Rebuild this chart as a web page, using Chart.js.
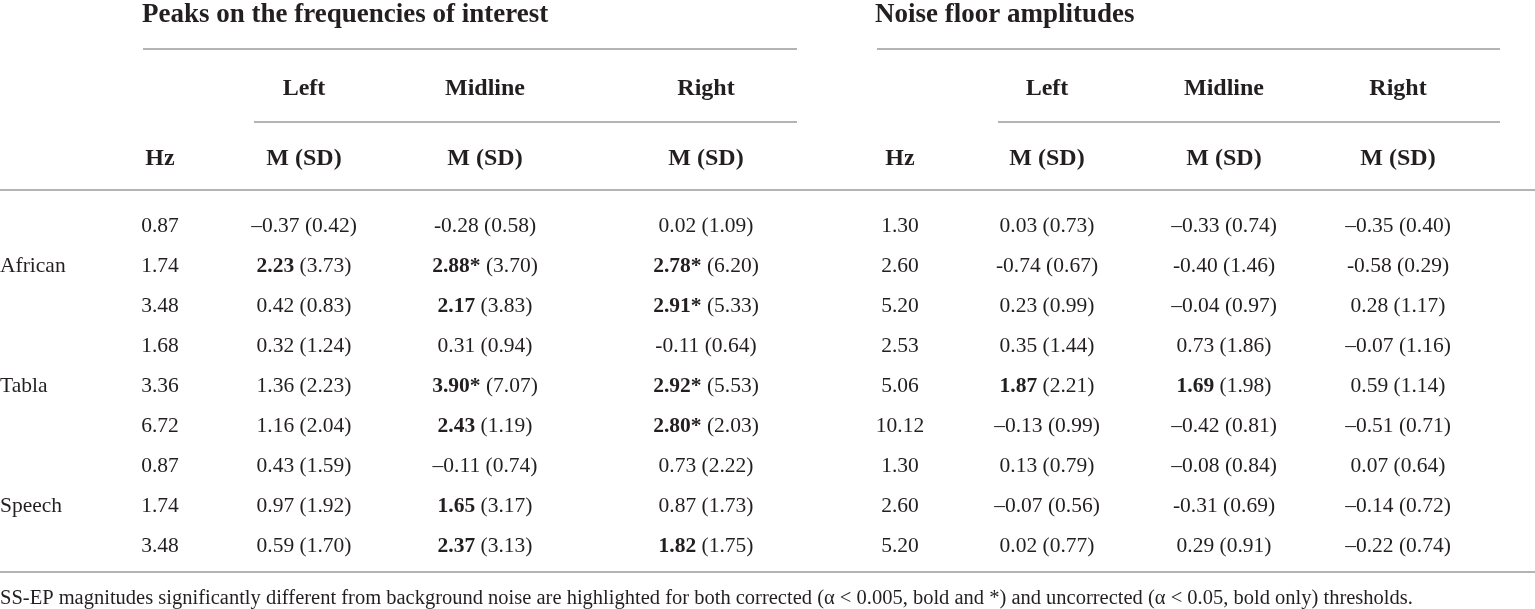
<!DOCTYPE html>
<html lang="en">
<head>
  <meta charset="UTF-8">
  <title>SS-EP magnitudes</title>
  <script src="https://cdn.jsdelivr.net/npm/chart.js"></script>
  <style>
    html, body { margin: 0; padding: 0; background: #fff; }
    .chart-box { position: relative; width: 1535px; height: 609px; }
  </style>
</head>
<body>

  <div class="chart-box"><canvas id="tableChart"></canvas></div>

  <script>
    // table content
    const groups = ['African', 'Tabla', 'Speech'];
    const peakHz = ['0.87', '1.74', '3.48', '1.68', '3.36', '6.72', '0.87', '1.74', '3.48'];
    const noiseHz = ['1.30', '2.60', '5.20', '2.53', '5.06', '10.12', '1.30', '2.60', '5.20'];

    // peaks on the frequencies of interest: mean, sd, significance (0 none, 1 bold, 2 bold + *)
    const peakLeftM = ['\u20130.37', '2.23', '0.42', '0.32', '1.36', '1.16', '0.43', '0.97', '0.59'];
    const peakLeftSD = ['0.42', '3.73', '0.83', '1.24', '2.23', '2.04', '1.59', '1.92', '1.70'];
    const peakLeftSig = [0, 1, 0, 0, 0, 0, 0, 0, 0];

    const peakMidM = ['-0.28', '2.88', '2.17', '0.31', '3.90', '2.43', '\u20130.11', '1.65', '2.37'];
    const peakMidSD = ['0.58', '3.70', '3.83', '0.94', '7.07', '1.19', '0.74', '3.17', '3.13'];
    const peakMidSig = [0, 2, 1, 0, 2, 1, 0, 1, 1];

    const peakRightM = ['0.02', '2.78', '2.91', '-0.11', '2.92', '2.80', '0.73', '0.87', '1.82'];
    const peakRightSD = ['1.09', '6.20', '5.33', '0.64', '5.53', '2.03', '2.22', '1.73', '1.75'];
    const peakRightSig = [0, 2, 2, 0, 2, 2, 0, 0, 1];

    // noise floor amplitudes
    const noiseLeftM = ['0.03', '-0.74', '0.23', '0.35', '1.87', '\u20130.13', '0.13', '\u20130.07', '0.02'];
    const noiseLeftSD = ['0.73', '0.67', '0.99', '1.44', '2.21', '0.99', '0.79', '0.56', '0.77'];
    const noiseLeftSig = [0, 0, 0, 0, 1, 0, 0, 0, 0];

    const noiseMidM = ['\u20130.33', '-0.40', '\u20130.04', '0.73', '1.69', '\u20130.42', '\u20130.08', '-0.31', '0.29'];
    const noiseMidSD = ['0.74', '1.46', '0.97', '1.86', '1.98', '0.81', '0.84', '0.69', '0.91'];
    const noiseMidSig = [0, 0, 0, 0, 1, 0, 0, 0, 0];

    const noiseRightM = ['\u20130.35', '-0.58', '0.28', '\u20130.07', '0.59', '\u20130.51', '0.07', '\u20130.14', '\u20130.22'];
    const noiseRightSD = ['0.40', '0.29', '1.17', '1.16', '1.14', '0.71', '0.64', '0.72', '0.74'];
    const noiseRightSig = [0, 0, 0, 0, 0, 0, 0, 0, 0];

    const sectionTitles = ['Peaks on the frequencies of interest', 'Noise floor amplitudes'];
    const sideLabels = ['Left', 'Midline', 'Right'];
    const footnote = 'SS-EP magnitudes significantly different from background noise are highlighted for both corrected (\u03b1 < 0.005, bold and *) and uncorrected (\u03b1 < 0.05, bold only) thresholds.';

    // layout (in scale units, 1 unit = 1 px); y values are text baselines
    const FONT = '"Liberation Serif", "DejaVu Serif", serif';
    const INK = '#231f20';
    const RULE = '#b4b4b4';
    const firstRow = 232, rowStep = 40;
    const xHz = [160, 900];
    const xCols = [[304, 485, 706], [1047, 1224, 1398]];
    const groupRows = [1, 4, 7];

    const rowY = peakHz.map((_, i) => firstRow + i * rowStep);

    const valueColumns = [
      [peakLeftM, peakLeftSD, peakLeftSig],
      [peakMidM, peakMidSD, peakMidSig],
      [peakRightM, peakRightSD, peakRightSig],
      [noiseLeftM, noiseLeftSD, noiseLeftSig],
      [noiseMidM, noiseMidSD, noiseMidSig],
      [noiseRightM, noiseRightSD, noiseRightSig]
    ];
    const colCentres = xCols[0].concat(xCols[1]);

    const datasets = [];
    datasets.push({ kind: 'hz', text: peakHz, data: rowY.map(y => ({ x: xHz[0], y })) });
    datasets.push({ kind: 'hz', text: noiseHz, data: rowY.map(y => ({ x: xHz[1], y })) });
    datasets.push({ kind: 'group', text: groups, data: groupRows.map(r => ({ x: 0, y: rowY[r] })) });
    valueColumns.forEach((col, c) => {
      datasets.push({ kind: 'cell', text: col, data: rowY.map(y => ({ x: colCentres[c], y })) });
    });
    datasets.forEach(d => { d.pointRadius = 0; d.pointHoverRadius = 0; d.showLine = false; });

    const BODY = 21.5;

    function font(size, bold) {
      return (bold ? 'bold ' : '') + size + 'px ' + FONT;
    }

    function drawCell(ctx, x, y, mean, sd, sig) {
      const parts = [
        { t: mean + (sig === 2 ? '*' : ''), b: sig > 0 },
        { t: ' (' + sd + ')', b: false }
      ];
      let total = 0;
      parts.forEach(p => { ctx.font = font(BODY, p.b); p.w = ctx.measureText(p.t).width; total += p.w; });
      let cx = x - total / 2;
      ctx.textAlign = 'left';
      parts.forEach(p => { ctx.font = font(BODY, p.b); ctx.fillText(p.t, cx, y); cx += p.w; });
    }

    const tablePlugin = {
      id: 'tablePlugin',
      afterDatasetsDraw(chart) {
        const ctx = chart.ctx;
        const xs = chart.scales.x, ys = chart.scales.y;
        const px = v => xs.getPixelForValue(v);
        const py = v => ys.getPixelForValue(v);
        ctx.save();
        ctx.fillStyle = INK;
        ctx.textBaseline = 'alphabetic';

        // rules
        ctx.strokeStyle = RULE;
        ctx.lineWidth = 2;
        const rules = [[143, 797, 49], [877, 1500, 49], [254, 797, 122], [998, 1500, 122], [0, 1535, 190], [0, 1535, 572]];
        rules.forEach(r => {
          ctx.beginPath();
          ctx.moveTo(px(r[0]), py(r[2]));
          ctx.lineTo(px(r[1]), py(r[2]));
          ctx.stroke();
        });

        // section titles
        ctx.textAlign = 'left';
        ctx.font = font(27, true);
        ctx.fillText(sectionTitles[0], px(142), py(22));
        ctx.fillText(sectionTitles[1], px(875), py(22));

        // side labels and sub headers
        ctx.textAlign = 'center';
        ctx.font = font(24, true);
        xCols.forEach((cols, s) => {
          cols.forEach((cx, i) => {
            ctx.fillText(sideLabels[i], px(cx), py(95));
            ctx.fillText('M (SD)', px(cx), py(165));
          });
          ctx.fillText('Hz', px(xHz[s]), py(165));
        });

        // body cells, placed at the dataset points
        chart.data.datasets.forEach((ds, di) => {
          const meta = chart.getDatasetMeta(di);
          meta.data.forEach((pt, i) => {
            if (ds.kind === 'hz') {
              ctx.textAlign = 'center';
              ctx.font = font(BODY, false);
              ctx.fillText(ds.text[i], pt.x, pt.y);
            } else if (ds.kind === 'group') {
              ctx.textAlign = 'left';
              ctx.font = font(BODY, false);
              ctx.fillText(ds.text[i], pt.x, pt.y);
            } else {
              drawCell(ctx, pt.x, pt.y, ds.text[0][i], ds.text[1][i], ds.text[2][i]);
            }
          });
        });

        // footnote
        ctx.textAlign = 'left';
        ctx.font = font(20.5, false);
        ctx.fillText(footnote, px(0), py(604));
        ctx.restore();
      }
    };

    new Chart(document.getElementById('tableChart'), {
      type: 'scatter',
      data: { datasets },
      options: {
        responsive: true,
        maintainAspectRatio: false,
        animation: false,
        layout: { padding: 0 },
        scales: {
          x: { type: 'linear', min: 0, max: 1535, display: false },
          y: { type: 'linear', min: 0, max: 609, reverse: true, display: false }
        },
        plugins: {
          legend: { display: false },
          tooltip: { enabled: false }
        }
      },
      plugins: [tablePlugin]
    });
  </script>

</body>
</html>
